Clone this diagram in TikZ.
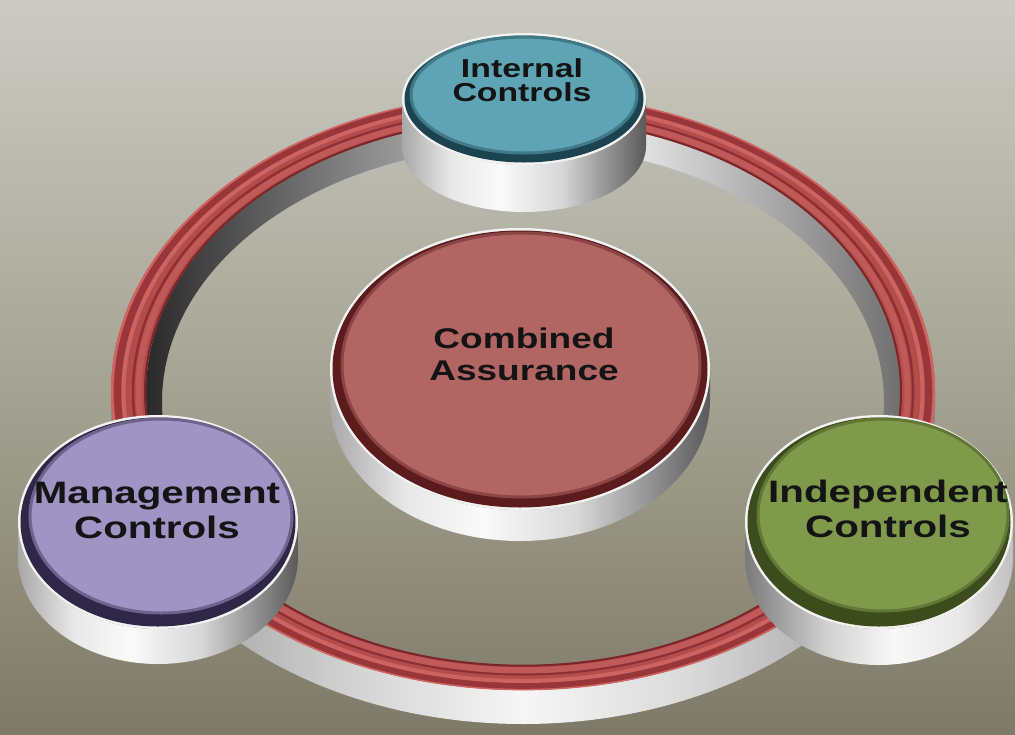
\documentclass[tikz,border=0pt]{standalone}
\usepackage{fontspec}
\setmainfont{Liberation Sans}
\newfontfamily\lblfont{Liberation Sans Bold}[FakeStretch=1.3]
\usetikzlibrary{calc}

% palette
\definecolor{bgtop}{HTML}{CBCBC4}
\definecolor{bgmid}{HTML}{A7A595}
\definecolor{bgbot}{HTML}{7E7A68}
\definecolor{rimwhite}{HTML}{F2F2F0}
\definecolor{labeltext}{HTML}{141414}
\definecolor{ringbase}{HTML}{B24D4C}
\definecolor{ringedge}{HTML}{D06460}
\definecolor{ringdark}{HTML}{983639}
\definecolor{ringlight}{HTML}{CC6562}
\definecolor{ringline}{HTML}{8E3033}
\definecolor{ringmid}{HTML}{C05A58}
\definecolor{ringinner}{HTML}{7A2528}
\definecolor{icface}{HTML}{5EA4B4}
\definecolor{icdark}{HTML}{1C4450}
\definecolor{caface}{HTML}{B16664}
\definecolor{cadark}{HTML}{5C1C1E}
\definecolor{mcface}{HTML}{9F94C3}
\definecolor{mcdark}{HTML}{2F2748}
\definecolor{idface}{HTML}{809A4C}
\definecolor{iddark}{HTML}{3C4C1C}
\definecolor{sA0}{HTML}{A8A8A8}
\definecolor{sA1}{HTML}{E8E8E8}
\definecolor{sA2}{HTML}{FAFAFA}
\definecolor{sA3}{HTML}{D8D8D8}
\definecolor{sA4}{HTML}{5A5A5A}
\definecolor{sB0}{HTML}{7A7A7A}
\definecolor{sB1}{HTML}{D0D0D0}
\definecolor{sB2}{HTML}{F8F8F8}
\definecolor{sB3}{HTML}{E8E8E8}
\definecolor{sB4}{HTML}{C0C0C0}
\definecolor{ow0}{HTML}{8E8E8E}
\definecolor{ow1}{HTML}{D4D4D4}
\definecolor{ow2}{HTML}{F6F6F6}
\definecolor{ow3}{HTML}{DADADA}
\definecolor{iw0}{HTML}{2A2A2A}
\definecolor{iw1}{HTML}{9A9A9A}
\definecolor{iw2}{HTML}{EEEEEE}
\definecolor{iw3}{HTML}{707070}

% shadings (the path's box maps onto the central 25bp--75bp band)
\pgfdeclareverticalshading{backdrop}{100bp}{color(0bp)=(bgbot); color(25bp)=(bgbot); color(50bp)=(bgmid); color(75bp)=(bgtop); color(100bp)=(bgtop)}
\pgfdeclarehorizontalshading{silverA}{100bp}{color(0bp)=(sA0); color(25bp)=(sA0); color(35bp)=(sA1); color(45bp)=(sA2); color(57.5bp)=(sA3); color(75bp)=(sA4); color(100bp)=(sA4)}
\pgfdeclarehorizontalshading{silverB}{100bp}{color(0bp)=(sB0); color(25bp)=(sB0); color(40bp)=(sB1); color(52.5bp)=(sB2); color(65bp)=(sB3); color(75bp)=(sB4); color(100bp)=(sB4)}
\pgfdeclarehorizontalshading{outerwall}{100bp}{color(0bp)=(ow0); color(25bp)=(ow0); color(40bp)=(ow1); color(50bp)=(ow2); color(60bp)=(ow3); color(75bp)=(ow0); color(100bp)=(ow0)}
\pgfdeclarehorizontalshading{innerwall}{100bp}{color(0bp)=(iw0); color(25bp)=(iw0); color(42bp)=(iw1); color(56bp)=(iw2); color(75bp)=(iw3); color(100bp)=(iw3)}

% a raised disc: #1 centre, #2 x radius, #3 y radius, #4 side height,
% #5 side shading, #6 rim colour, #7 face colour, #8 face centre, #9 face radii
\newcommand\diskbody[9]{%
  \path[shading=#5] ($(#1)+(-#2,0)$)
    arc[start angle=180,end angle=0,x radius=#2,y radius=#3] -- ++(0,#4)
    arc[start angle=0,end angle=180,x radius=#2,y radius=#3] -- cycle;
  \fill[rimwhite] (#1) ellipse[x radius=#2,y radius=#3];
  \fill[#6] (#1) ellipse[x radius=#2-2.5,y radius=#3-2.5];
  \fill[#7, draw=#7!55!#6, line width=3] (#8) ellipse[#9];
}

\tikzset{
  lbl/.style={align=center, inner sep=0pt, text=labeltext, anchor=base},
  ridge/.style 2 args={draw=#1, line width=#2},
}

\begin{document}
\begin{tikzpicture}[x=1pt,y=-1pt]
\useasboundingbox (0,0) rectangle (1015,734);
\path[shading=backdrop] (0,0) rectangle (1015,734);

% ---- ring: far inner wall
\begin{scope}
  \clip (0,0) rectangle (1015,440);
  \path[shading=innerwall, even odd rule]
    (523,392) ellipse[x radius=377,y radius=273]
    (523,402) ellipse[x radius=361,y radius=256];
\end{scope}

% ---- ring: near outer wall
\path[shading=outerwall] (111,392)
  arc[start angle=180,end angle=0,x radius=412,y radius=298] -- ++(0,34)
  arc[start angle=0,end angle=180,x radius=412,y radius=298] -- cycle;

% ---- ring: red top band with two ridges
\fill[ringbase, even odd rule]
  (523,392) ellipse[x radius=412,y radius=298]
  (523,392) ellipse[x radius=377,y radius=273];
\path[ridge={ringedge}{2.5}] (523,392) ellipse[x radius=410.8,y radius=297.1];
\path[ridge={ringdark}{7}]   (523,392) ellipse[x radius=405.5,y radius=293.3];
\path[ridge={ringlight}{4}]  (523,392) ellipse[x radius=399.5,y radius=289];
\path[ridge={ringline}{2.5}] (523,392) ellipse[x radius=390,y radius=282.3];
\path[ridge={ringmid}{6}]    (523,392) ellipse[x radius=384.5,y radius=278.4];
\path[ridge={ringinner}{2}]  (523,392) ellipse[x radius=378,y radius=273.7];

% ---- discs
\diskbody{520,369}{190}{141}{31}{silverA}{cadark}{caface}{521,365}{x radius=179,y radius=132}
\diskbody{524,99}{122}{66}{47}{silverA}{icdark}{icface}{524,95}{x radius=113,y radius=58}
\diskbody{158,522}{140}{107}{35}{silverA}{mcdark}{mcface}{161,516}{x radius=131,y radius=97}
\diskbody{879,522}{134}{107}{36}{silverB}{iddark}{idface}{883,515}{x radius=125,y radius=96}

% ---- labels (anchored on the baseline of the last line)
\node[lbl, font=\lblfont\fontsize{26}{24}\selectfont] (internal) at (522,101) {Internal\\Controls};
\node[lbl, font=\lblfont\fontsize{28.5}{32}\selectfont] (combined) at (524,380) {Combined\\Assurance};
\node[lbl, font=\lblfont\fontsize{31}{35}\selectfont] (management) at (157,538) {Management\\Controls};
\node[lbl, font=\lblfont\fontsize{31}{35}\selectfont] (independent) at (888,537) {Independent\\Controls};
\end{tikzpicture}
\end{document}
